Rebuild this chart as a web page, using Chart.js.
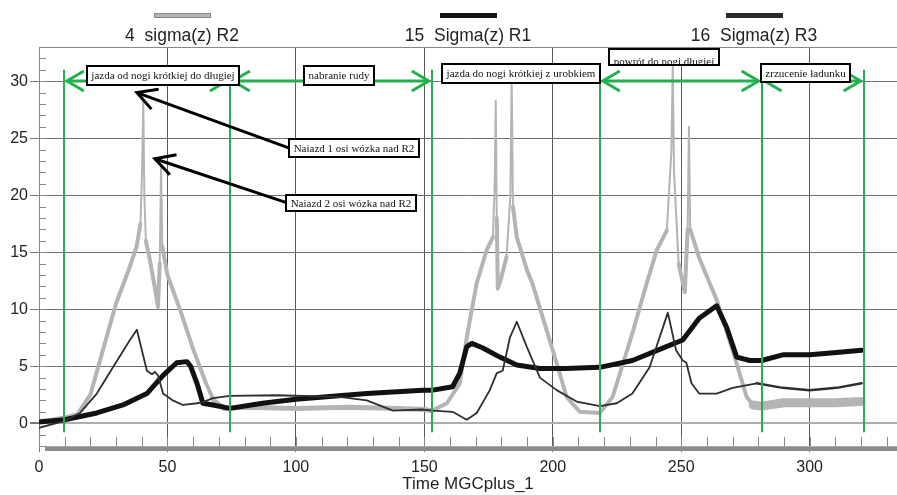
<!DOCTYPE html>
<html>
<head>
<meta charset="utf-8">
<script src="https://cdn.jsdelivr.net/npm/chart.js@4.4.0/dist/chart.umd.min.js"></script>
<style>
  html, body { margin: 0; padding: 0; background: #fff; }
  #wrap { width: 897px; height: 495px; }
</style>
</head>
<body>
<div id="wrap"><canvas id="c" width="897" height="495"></canvas></div>
<script>
/* wykres naprężeń sigma(z) R1/R2/R3 w czasie cyklu pracy wózka */

const legendLabels = ['4  sigma(z) R2', '15  Sigma(z) R1', '16  Sigma(z) R3'];
const xTicks = [0, 50, 100, 150, 200, 250, 300];
const yTicks = [0, 5, 10, 15, 20, 25, 30];

/* R2 — jasnoszary */
const r2X = [0, 5, 10, 15, 20, 25, 30, 35, 38, 39.5, 40.2, 40.6, 41, 41.6, 43, 45, 46.3, 47, 47.5, 48, 50,
  55, 60, 65, 68, 72, 80, 100, 120, 140, 150, 153, 158.8, 163.8, 166.5, 170.4, 174.3, 176.7, 177.4, 177.8,
  178.2, 178.6, 180, 182, 183.5, 184, 184.5, 186, 190, 192, 200, 205.4, 210.5, 218.3, 223.3, 231, 236.6,
  240.5, 244.4, 246.2, 246.7, 247.2, 249, 251.4, 252.5, 253, 253.5, 257, 263.8, 270, 275.5, 278, 281.3,
  290, 300, 310, 320];
const r2Y = [0.2, 0.3, 0.5, 0.8, 2.5, 6.5, 10.5, 13.5, 15.5, 17.5, 23, 28.2, 20, 16, 14.5, 12, 10.2, 14, 22.5, 15.5, 13,
  9.9, 6.5, 3.5, 2, 1.3, 1.4, 1.3, 1.4, 1.3, 1.2, 1.1, 1.75, 3.5, 7.5, 12.3, 15.2, 16.3, 21, 28.3,
  18, 11.8, 12.8, 14.6, 20, 30.5, 19, 16.3, 13.4, 12.3, 6.4, 2.3, 1, 0.9, 2.3, 7.9, 12.3,
  15.2, 16.9, 24, 31.5, 22, 14, 11.5, 17, 26, 17, 14.5, 10.8, 6.4, 2.3, 1.6, 1.5,
  1.8, 1.8, 1.8, 1.9];

/* R1 — czarny */
const r1X = [0, 10, 22.5, 32.7, 42, 48.3, 53.6, 57.6, 59, 61.5, 63.8, 67.7, 74.3, 87, 100, 127.6, 149.5, 153.3,
  161, 163.8, 166.5, 168.5, 172.8, 179.4, 186, 195, 205, 218.3, 231, 244, 250.6, 257, 263.8, 267.7, 271.6,
  276.7, 281.3, 289.5, 300, 310.5, 320.2];
const r1Y = [0.1, 0.3, 0.9, 1.6, 2.6, 4.2, 5.3, 5.4, 5.0, 3.5, 1.75, 1.6, 1.3, 1.75, 2.1, 2.6, 2.9, 2.9,
  3.2, 4.4, 6.7, 7.0, 6.6, 5.8, 5.1, 4.8, 4.8, 4.9, 5.5, 6.7, 7.3, 9.2, 10.3, 8.4, 5.8,
  5.5, 5.5, 6.0, 6.0, 6.2, 6.4];

/* R3 — ciemnoszary */
const r3X = [0, 10, 16, 22.5, 28.8, 35.4, 38.1, 42, 44, 45.1, 46.3, 48.3, 52.1, 56, 61.5, 63.8, 67.7, 74.3, 92.6,
  117, 127.6, 137.8, 149.5, 153.3, 161, 166.5, 170.4, 175.5, 178.2, 180.5, 183.3, 186, 189.9, 195, 201.5,
  209.3, 218.3, 224.9, 231, 237.7, 244.8, 248, 250.6, 252, 254, 257, 263.8, 270, 279.4, 289.5, 300, 310.5, 320.2];
const r3Y = [-0.4, 0.2, 0.9, 2.6, 4.9, 7.3, 8.2, 4.6, 4.3, 4.5, 4.2, 2.6, 2.0, 1.6, 1.75, 1.85, 2.2, 2.4, 2.45,
  2.3, 2.0, 1.1, 1.2, 1.1, 1.0, 0.3, 0.9, 2.9, 4.4, 4.6, 7.5, 8.9, 6.7, 4.0, 2.9,
  1.9, 1.5, 1.75, 2.6, 4.9, 9.7, 6.4, 5.5, 5.3, 3.5, 2.6, 2.6, 3.1, 3.5, 3.1, 2.9, 3.1, 3.5];

/* fazy cyklu (zielone znaczniki) */
const phaseLines = [9.7, 74.3, 152.9, 218.3, 281.3, 321];
const phaseArrows = [[0, 1], [1, 2], [3, 4], [4, 5]];
const phaseLabels = [
  { text: 'jazda od nogi krótkiej do długiej', x: 48.4, y: 30.5, h: 19 },
  { text: 'nabranie rudy', x: 116.9, y: 30.5, h: 19 },
  { text: 'jazda do nogi krótkiej z urobkiem', x: 187.5, y: 30.66, h: 19 },
  { text: 'powrót do nogi długiej', x: 243.4, y: 32.1, h: 16, dy: 4 },
  { text: 'zrzucenie ładunku', x: 298.2, y: 30.7, h: 18 },
];
const notes = [
  { text: 'Naiazd 1 osi wózka nad R2', x: 122.6, y: 24.1, h: 18, from: [97.7, 24.1], to: [38.1, 29.0] },
  { text: 'Naiazd 2 osi wózka nad R2', x: 121.4, y: 19.3, h: 16, from: [96.9, 19.3], to: [45.1, 23.2] },
];

const GREEN = '#22b14c';
const SANS = "'Liberation Sans', Arial, sans-serif";
const SERIF = "'Liberation Serif', 'Times New Roman', serif";

function pts(xs, ys) { return xs.map((v, i) => ({ x: v, y: ys[i] })); }

/* ── ramki, podziałki pomocnicze, pasek dolny, legenda ── */
const frame = {
  id: 'frame',
  beforeDatasetsDraw(chart) {
    const { ctx, chartArea: a, scales: { x, y } } = chart;
    ctx.save();
    ctx.strokeStyle = '#888';
    ctx.lineWidth = 1;
    ctx.beginPath();
    ctx.moveTo(a.left, a.top + 0.5); ctx.lineTo(a.right, a.top + 0.5);
    for (let v = -2; v <= 33; v++) {
      const py = Math.round(y.getPixelForValue(v)) + 0.5;
      ctx.moveTo(a.left, py); ctx.lineTo(a.left + 7, py);
    }
    for (let v = 10; v <= 330; v += 10) {
      const px = Math.round(x.getPixelForValue(v)) + 0.5;
      ctx.moveTo(px, a.bottom); ctx.lineTo(px, a.bottom - 9);
    }
    ctx.stroke();
    ctx.restore();
  },
  afterDraw(chart) {
    const { ctx, chartArea: a } = chart;
    ctx.save();
    ctx.fillStyle = '#8c8c8c';
    ctx.fillRect(a.left + 6, a.bottom + 1, a.right - a.left - 6, 4);
    // legenda nad wykresem
    const cols = ['#b4b4b4', '#111', '#2a2a2a'];
    const w3 = (a.right - a.left) / 3;
    ctx.font = '17.5px ' + SANS;
    ctx.textAlign = 'center';
    ctx.textBaseline = 'middle';
    legendLabels.forEach((t, i) => {
      const cx = a.left + w3 * (i + 0.5);
      ctx.fillStyle = cols[i];
      ctx.fillRect(cx - 28, 13, 57, 5);
      if (i === 0) { ctx.strokeStyle = '#888'; ctx.strokeRect(cx - 27.5, 13.5, 56, 4); }
      ctx.fillStyle = '#222';
      ctx.fillText(t, cx, 36);
    });
    ctx.restore();
  }
};

/* ── adnotacje: fazy, strzałki, opisy ── */
function vHead(ctx, tx, ty, dir) {
  ctx.beginPath();
  ctx.moveTo(tx - dir * 17, ty - 10); ctx.lineTo(tx, ty); ctx.lineTo(tx - dir * 17, ty + 10);
  ctx.stroke();
}
function box(ctx, cx, cy, h, text, dy) {
  ctx.font = '11px ' + SERIF;
  const w = Math.round(ctx.measureText(text).width + 9);
  const l = Math.round(cx - w / 2), t = Math.round(cy - h / 2);
  ctx.fillStyle = '#fff';
  ctx.fillRect(l, t, w, h);
  ctx.save();
  ctx.beginPath(); ctx.rect(l, t, w, h); ctx.clip();
  ctx.fillStyle = '#111';
  ctx.textAlign = 'center';
  ctx.textBaseline = 'middle';
  ctx.fillText(text, l + w / 2, t + h / 2 + 1 + (dy || 0));
  ctx.restore();
  ctx.strokeStyle = '#000';
  ctx.lineWidth = 2;
  ctx.strokeRect(l, t, w, h);
}

const overlay = {
  id: 'overlay',
  afterDatasetsDraw(chart) {
    const { ctx, scales: { x, y } } = chart;
    ctx.save();
    ctx.strokeStyle = GREEN;
    ctx.lineWidth = 2;
    phaseLines.forEach(v => {
      const px = Math.round(x.getPixelForValue(v));
      ctx.beginPath();
      ctx.moveTo(px, y.getPixelForValue(31)); ctx.lineTo(px, y.getPixelForValue(-0.8));
      ctx.stroke();
    });
    ctx.lineWidth = 3;
    ctx.lineJoin = 'miter';
    const ay = Math.round(y.getPixelForValue(30));
    phaseArrows.forEach(([i, j]) => {
      const x0 = x.getPixelForValue(phaseLines[i]) + 3;
      const x1 = x.getPixelForValue(phaseLines[j]) - 3;
      ctx.beginPath(); ctx.moveTo(x0, ay); ctx.lineTo(x1, ay); ctx.stroke();
      vHead(ctx, x0, ay, -1);
      vHead(ctx, x1, ay, 1);
    });
    // czarne strzałki do pików
    ctx.strokeStyle = '#000';
    ctx.lineWidth = 3;
    notes.forEach(n => {
      const sx = x.getPixelForValue(n.from[0]), sy = y.getPixelForValue(n.from[1]);
      const tx = x.getPixelForValue(n.to[0]), ty = y.getPixelForValue(n.to[1]);
      const ang = Math.atan2(sy - ty, sx - tx);
      ctx.beginPath(); ctx.moveTo(sx, sy); ctx.lineTo(tx, ty); ctx.stroke();
      ctx.beginPath();
      ctx.moveTo(tx + 22 * Math.cos(ang - 0.5), ty + 22 * Math.sin(ang - 0.5));
      ctx.lineTo(tx, ty);
      ctx.lineTo(tx + 22 * Math.cos(ang + 0.5), ty + 22 * Math.sin(ang + 0.5));
      ctx.stroke();
    });
    phaseLabels.concat(notes).forEach(b => {
      box(ctx, x.getPixelForValue(b.x), y.getPixelForValue(b.y), b.h, b.text, b.dy);
    });
    ctx.restore();
  }
};

const r2Width = c => {
  const x0 = c.p0.parsed.x, y0 = Math.max(c.p0.parsed.y, c.p1.parsed.y);
  if (x0 >= 277) return 9;
  if (x0 >= 67 && x0 < 153) return 5;
  if (y0 > 19) return 2;
  return 4;
};

new Chart(document.getElementById('c'), {
  type: 'line',
  data: {
    datasets: [
      { label: legendLabels[0], data: pts(r2X, r2Y), borderColor: '#b4b4b4', borderWidth: 4, order: 3,
        segment: { borderWidth: r2Width } },
      { label: legendLabels[1], data: pts(r1X, r1Y), borderColor: '#111', borderWidth: 5, order: 2 },
      { label: legendLabels[2], data: pts(r3X, r3Y), borderColor: '#2e2e2e', borderWidth: 2, order: 1,
        segment: { borderWidth: c => c.p0.parsed.x >= 277 ? 2.5 : 1.8 } },
    ],
  },
  options: {
    responsive: false,
    animation: false,
    parsing: false,
    layout: { padding: { top: 47, left: 0, right: 0, bottom: 0 } },
    elements: {
      point: { radius: 0 },
      line: { tension: 0, borderJoinStyle: 'round', borderCapStyle: 'round', fill: false },
    },
    plugins: { legend: { display: false }, tooltip: { enabled: false } },
    scales: {
      x: {
        type: 'linear', min: 0, max: 334,
        afterBuildTicks: s => { s.ticks = xTicks.map(v => ({ value: v })); },
        afterFit: s => { s.height = 49; },
        ticks: { color: '#222', font: { family: SANS, size: 16 }, padding: 6, maxRotation: 0 },
        grid: { color: '#5a5a5a', lineWidth: 1, tickLength: 6, tickColor: '#777' },
        border: { color: '#aaa', width: 1 },
        title: { display: true, text: 'Time MGCplus_1', color: '#222', font: { family: SANS, size: 17 },
          padding: { top: 4, bottom: 0 } },
      },
      y: {
        type: 'linear', min: -2, max: 33,
        afterBuildTicks: s => { s.ticks = yTicks.map(v => ({ value: v })); },
        afterFit: s => { s.width = 39; },
        ticks: { color: '#222', font: { family: SANS, size: 16 }, padding: 2 },
        grid: {
          color: c => c.tick && c.tick.value === 0 ? '#adadad' : '#6e6e6e',
          lineWidth: c => c.tick && c.tick.value === 0 ? 2 : 1,
          tickLength: 9, tickColor: '#777',
        },
        border: { color: '#888', width: 1 },
      },
    },
  },
  plugins: [frame, overlay],
});
</script>
</body>
</html>
